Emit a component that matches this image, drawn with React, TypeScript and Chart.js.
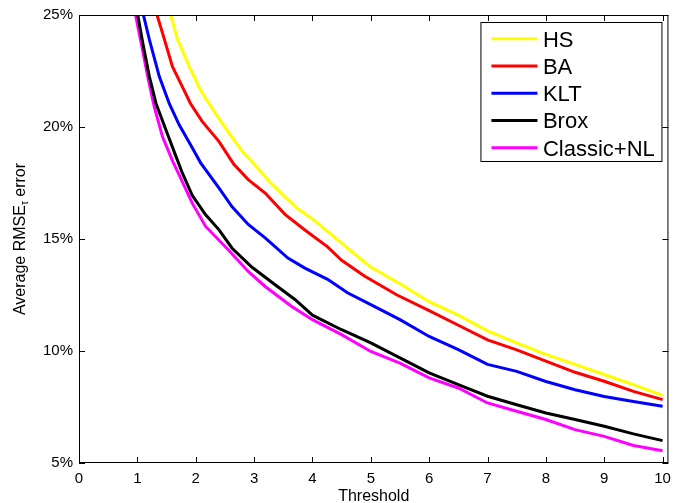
import { useEffect, useRef } from "react";
import { Chart, registerables } from "chart.js";

Chart.register(...registerables);

// ---- data ----
const xTickValues = [0, 1, 2, 3, 4, 5, 6, 7, 8, 9, 10];
const yTickValues = [5, 10, 15, 20, 25];
const seriesNames = ["HS", "BA", "KLT", "Brox", "Classic+NL"];
const seriesColors = ["#ffff00", "#ff0000", "#0000ff", "#000000", "#ff00ff"];

const hsThreshold = [1.57, 1.69, 1.89, 2.08, 2.34, 2.62, 2.8, 3.0, 3.25, 3.5, 3.75, 4.0, 4.3, 4.5, 4.9, 5.0, 5.5, 6.0, 6.5, 7.0, 7.5, 8.0, 8.5, 9.0, 9.5, 10];
const hsError = [25, 23.9, 22.7, 21.65, 20.6, 19.55, 18.9, 18.35, 17.6, 16.95, 16.35, 15.9, 15.25, 14.82, 13.95, 13.75, 13.0, 12.2, 11.6, 10.9, 10.36, 9.85, 9.4, 8.95, 8.5, 8.02];

const baThreshold = [1.337, 1.43, 1.6, 1.77, 1.91, 2.11, 2.4, 2.65, 2.9, 3.19, 3.53, 3.87, 4.26, 4.5, 4.89, 5.45, 6.0, 6.5, 7.0, 7.5, 8.0, 8.5, 9.0, 9.5, 10];
const baError = [25, 24.2, 22.7, 21.8, 21.05, 20.25, 19.35, 18.35, 17.65, 17.05, 16.1, 15.4, 14.65, 14.05, 13.35, 12.5, 11.8, 11.15, 10.5, 10.05, 9.55, 9.05, 8.65, 8.2, 7.83];

const kltThreshold = [1.104, 1.206, 1.376, 1.546, 1.716, 1.914, 2.084, 2.4, 2.62, 2.9, 3.19, 3.58, 3.87, 4.26, 4.6, 5.0, 5.5, 6.0, 6.5, 7.0, 7.5, 8.0, 8.5, 9.0, 9.5, 10];
const kltError = [25, 23.9, 22.25, 21.05, 20.1, 19.2, 18.4, 17.27, 16.45, 15.65, 15.05, 14.15, 13.7, 13.2, 12.6, 12.07, 11.4, 10.65, 10.06, 9.4, 9.09, 8.64, 8.27, 7.97, 7.75, 7.53];

const broxThreshold = [1.007, 1.093, 1.206, 1.32, 1.49, 1.66, 1.77, 1.94, 2.17, 2.4, 2.62, 2.96, 3.36, 3.7, 4.0, 4.5, 5.0, 5.5, 6.0, 6.5, 7.0, 7.5, 8.0, 8.5, 9.0, 9.5, 10];
const broxError = [25, 23.75, 22.25, 21.05, 19.87, 18.7, 17.95, 16.95, 16.08, 15.41, 14.6, 13.75, 12.96, 12.3, 11.6, 10.95, 10.36, 9.69, 9.02, 8.5, 7.98, 7.6, 7.23, 6.94, 6.64, 6.3, 6.0];

const classicThreshold = [0.968, 1.065, 1.178, 1.29, 1.43, 1.6, 1.716, 1.94, 2.17, 2.565, 2.9, 3.19, 3.64, 4.0, 4.5, 5.0, 5.5, 6.0, 6.5, 7.0, 7.5, 8.0, 8.5, 9.0, 9.5, 10];
const classicError = [25, 23.75, 22.25, 20.9, 19.57, 18.5, 17.86, 16.6, 15.56, 14.5, 13.55, 12.88, 12.0, 11.4, 10.73, 9.98, 9.46, 8.8, 8.35, 7.68, 7.31, 6.94, 6.49, 6.19, 5.78, 5.55];

const seriesThresholds = [hsThreshold, baThreshold, kltThreshold, broxThreshold, classicThreshold];
const seriesErrors = [hsError, baError, kltError, broxError, classicError];

const FONT = "'Liberation Sans', Arial, Helvetica, sans-serif";

const decorPlugin = {
  id: "decor",
  afterDraw(chart: any) {
    const ctx = chart.ctx as CanvasRenderingContext2D;
    const ca = chart.chartArea;
    const xs = chart.scales.x;
    const ys = chart.scales.y;
    ctx.save();
    // frame
    ctx.strokeStyle = "#000";
    ctx.lineWidth = 1;
    ctx.strokeRect(ca.left + 0.5, ca.top + 0.5, ca.right - ca.left - 1, ca.bottom - ca.top - 1);
    // inward ticks
    const tl = 6;
    ctx.beginPath();
    xTickValues.forEach((v) => {
      const px = Math.round(xs.getPixelForValue(v)) + 0.5;
      ctx.moveTo(px, ca.bottom);
      ctx.lineTo(px, ca.bottom - tl);
      ctx.moveTo(px, ca.top);
      ctx.lineTo(px, ca.top + tl);
    });
    yTickValues.forEach((v) => {
      const py = Math.round(ys.getPixelForValue(v)) + 0.5;
      ctx.moveTo(ca.left, py);
      ctx.lineTo(ca.left + tl, py);
      ctx.moveTo(ca.right, py);
      ctx.lineTo(ca.right - tl, py);
    });
    ctx.stroke();

    // x title
    ctx.fillStyle = "#000";
    ctx.font = `16px ${FONT}`;
    ctx.textAlign = "center";
    ctx.textBaseline = "alphabetic";
    ctx.fillText("Threshold", (ca.left + ca.right) / 2, 501);

    // y title with subscript
    ctx.save();
    ctx.translate(25, (ca.top + ca.bottom) / 2);
    ctx.rotate(-Math.PI / 2);
    const mainFont = `16px ${FONT}`;
    const subFont = `10px ${FONT}`;
    ctx.font = mainFont;
    const p1 = "Average RMSE";
    const p3 = " error";
    const w1 = ctx.measureText(p1).width;
    const w3 = ctx.measureText(p3).width;
    ctx.font = subFont;
    const w2 = ctx.measureText("τ").width;
    const total = w1 + w2 + w3;
    let cx = -total / 2;
    ctx.textAlign = "left";
    ctx.font = mainFont;
    ctx.fillText(p1, cx, 0);
    cx += w1;
    ctx.font = subFont;
    ctx.fillText("τ", cx, 3);
    cx += w2;
    ctx.font = mainFont;
    ctx.fillText(p3, cx, 0);
    ctx.restore();

    // legend
    const lw = 181;
    const lh = 139;
    const lx = ca.right - 7 - lw;
    const ly = ca.top + 7;
    ctx.fillStyle = "#fff";
    ctx.fillRect(lx, ly, lw, lh);
    ctx.strokeStyle = "#000";
    ctx.lineWidth = 1;
    ctx.strokeRect(lx + 0.5, ly + 0.5, lw, lh);
    ctx.font = `22px ${FONT}`;
    ctx.textAlign = "left";
    ctx.textBaseline = "alphabetic";
    chart.data.datasets.forEach((ds: any, i: number) => {
      const cy = ly + 16.7 + i * 27.25;
      ctx.strokeStyle = ds.borderColor;
      ctx.lineWidth = 3;
      ctx.beginPath();
      ctx.moveTo(lx + 11, cy);
      ctx.lineTo(lx + 57, cy);
      ctx.stroke();
      ctx.fillStyle = "#000";
      ctx.fillText(ds.label, lx + 62.5, cy + 7.9);
    });
    ctx.restore();
  },
};

export default function App() {
  const ref = useRef<HTMLCanvasElement | null>(null);
  useEffect(() => {
    if (!ref.current) return;
    const datasets = seriesNames.map((name, i) => ({
      label: name,
      data: seriesThresholds[i].map((t, j) => ({ x: t, y: seriesErrors[i][j] })),
      borderColor: seriesColors[i],
      backgroundColor: seriesColors[i],
      borderWidth: 3,
      pointRadius: 0,
      tension: 0,
      fill: false,
    }));
    const chart = new Chart(ref.current, {
      type: "line",
      data: { datasets },
      options: {
        responsive: false,
        animation: false,
        devicePixelRatio: 1,
        layout: { padding: { top: 15, right: 5, left: 0, bottom: 0 } },
        plugins: { legend: { display: false }, tooltip: { enabled: false } },
        scales: {
          x: {
            type: "linear",
            min: 0,
            max: 10.1,
            afterBuildTicks: (s: any) => {
              s.ticks = xTickValues.map((v) => ({ value: v }));
            },
            afterFit: (s: any) => {
              s.height = 40;
            },
            grid: { display: false, drawTicks: false },
            border: { display: false },
            ticks: {
              color: "#000",
              font: { family: FONT, size: 15 },
              padding: 7,
              maxRotation: 0,
              autoSkip: false,
            },
          },
          y: {
            type: "linear",
            min: 5,
            max: 25,
            afterBuildTicks: (s: any) => {
              s.ticks = yTickValues.map((v) => ({ value: v }));
            },
            afterFit: (s: any) => {
              s.width = 79;
            },
            grid: { display: false, drawTicks: false },
            border: { display: false },
            ticks: {
              color: "#000",
              font: { family: FONT, size: 15 },
              padding: 6,
              autoSkip: false,
              callback: (v: any) => `${v}%`,
            },
          },
        },
      },
      plugins: [decorPlugin],
    });
    return () => chart.destroy();
  }, []);
  return (
    <div style={{ position: "absolute", left: 0, top: 0, width: 678, height: 503, background: "#fff" }}>
      <canvas ref={ref} width={678} height={503} style={{ display: "block", width: 678, height: 503 }} />
    </div>
  );
}
